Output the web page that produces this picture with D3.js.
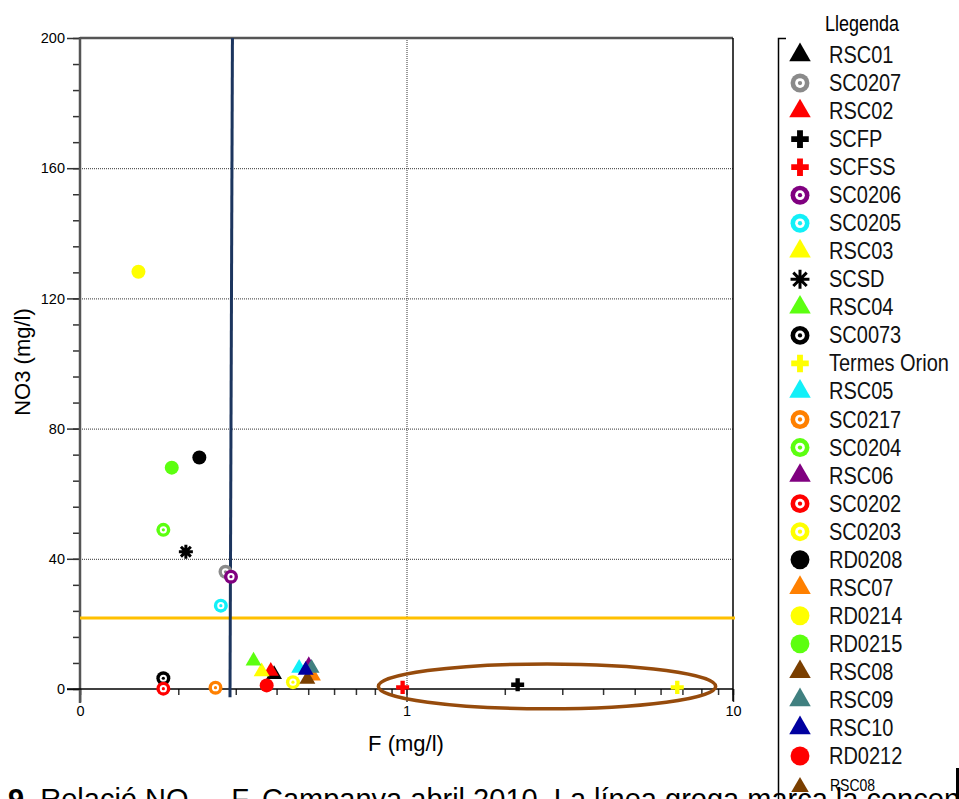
<!DOCTYPE html>
<html>
<head>
<meta charset="utf-8">
<script src="https://cdn.jsdelivr.net/npm/d3@7"></script>
<style>
  body { margin: 0; background: #fff; overflow: hidden; }
  svg { display: block; font-family: "Liberation Sans", Arial, sans-serif; }
</style>
</head>
<body>
<svg id="chart" width="959" height="799"></svg>
<script>
// sample points, legend order
const series = ['RSC01', 'SC0207', 'RSC02', 'SCFP', 'SCFSS', 'SC0206', 'SC0205', 'RSC03', 'SCSD',
  'RSC04', 'SC0073', 'Termes Orion', 'RSC05', 'SC0217', 'SC0204', 'RSC06', 'SC0202', 'SC0203',
  'RD0208', 'RSC07', 'RD0214', 'RD0215', 'RSC08', 'RSC09', 'RSC10', 'RD0212'];
const fluoride = [0.393, 0.279, 0.384, 2.19, 0.973, 0.290, 0.270, 0.360, 0.211,
  0.340, 0.180, 6.75, 0.469, 0.260, 0.180, 0.502, 0.180, 0.449,
  0.232, 0.517, 0.151, 0.191, 0.497, 0.512, 0.491, 0.373];
const nitrate = [4.5, 36.0, 5.5, 1.3, 0.5, 34.5, 25.6, 5.3, 42.2,
  8.6, 3.3, 0.5, 6.4, 0.4, 48.9, 7.2, 0.1, 2.1,
  71.1, 4.0, 128.2, 68.0, 3.0, 6.4, 5.8, 1.1];

const yTicks = [0, 40, 80, 120, 160, 200];
const xTicks = [0.1, 1, 10];
const xTickLabels = ['0', '1', '10'];

// reference lines
const nitrateLine = 21.8;
const fluorideLine = [0.293, 0.288];
// circled group (F range, NO3 range)
const circledF = [0.82, 8.85];
const circledNO3 = [-6.1, 7.7];

// marker style per series
const markerKind = {
  'RSC01': 'triangle', 'SC0207': 'ring', 'RSC02': 'triangle', 'SCFP': 'plus', 'SCFSS': 'plus',
  'SC0206': 'ring', 'SC0205': 'ring', 'RSC03': 'triangle', 'SCSD': 'asterisk', 'RSC04': 'triangle',
  'SC0073': 'ring', 'Termes Orion': 'plus', 'RSC05': 'triangle', 'SC0217': 'ring', 'SC0204': 'ring',
  'RSC06': 'triangle', 'SC0202': 'ring', 'SC0203': 'ring', 'RD0208': 'circle', 'RSC07': 'triangle',
  'RD0214': 'circle', 'RD0215': 'circle', 'RSC08': 'triangle', 'RSC09': 'triangle', 'RSC10': 'triangle',
  'RD0212': 'circle'
};
const markerColor = {
  'RSC01': '#000000', 'SC0207': '#8a8a8a', 'RSC02': '#ff0000', 'SCFP': '#000000', 'SCFSS': '#ff0000',
  'SC0206': '#800080', 'SC0205': '#12f0f8', 'RSC03': '#ffff00', 'SCSD': '#000000', 'RSC04': '#5cff10',
  'SC0073': '#000000', 'Termes Orion': '#ffff00', 'RSC05': '#12f0f8', 'SC0217': '#ff8000', 'SC0204': '#5cff10',
  'RSC06': '#800080', 'SC0202': '#ff0000', 'SC0203': '#ffff00', 'RD0208': '#000000', 'RSC07': '#ff8000',
  'RD0214': '#ffff00', 'RD0215': '#5cff10', 'RSC08': '#7a3f00', 'RSC09': '#408080', 'RSC10': '#0000a0',
  'RD0212': '#ff0000'
};

const svg = d3.select('#chart');
const x = d3.scaleLog().domain([0.1, 10]).range([80, 733]);
const y = d3.scaleLinear().domain([0, 200]).range([689, 38]);

const asterisk = {
  draw(ctx, size) {
    const r = Math.sqrt(size) / 2;
    for (let i = 0; i < 4; i++) {
      const a = i * Math.PI / 4;
      ctx.moveTo(-r * Math.cos(a), -r * Math.sin(a));
      ctx.lineTo(r * Math.cos(a), r * Math.sin(a));
    }
  }
};

function drawMarker(g, kind, color, k) {
  if (kind === 'triangle') {
    g.append('path').attr('d', d3.symbol(d3.symbolTriangle, 110 * k * k)()).attr('fill', color);
  } else if (kind === 'plus') {
    g.append('path').attr('d', d3.symbol(d3.symbolCross, 94 * k * k)()).attr('fill', color);
  } else if (kind === 'asterisk') {
    g.append('path').attr('d', d3.symbol(asterisk, 196 * k * k)())
      .attr('fill', 'none').attr('stroke', color).attr('stroke-width', 3);
  } else if (kind === 'circle') {
    g.append('circle').attr('r', 7 * k).attr('fill', color);
  } else {
    g.append('circle').attr('r', 7 * k).attr('fill', color);
    g.append('circle').attr('r', 3.6 * k).attr('fill', '#fff');
    g.append('circle').attr('r', 1.6 * k).attr('fill', color);
  }
}

// caption (cut off by the image edge)
const caption = svg.append('text').attr('x', 8).attr('y', 809).attr('font-size', 29).attr('fill', '#000');
caption.append('tspan').attr('font-weight', 'bold').text('9');
caption.append('tspan').text('. Relació NO');
caption.append('tspan').attr('font-size', 19).attr('dy', 6).text('3');
caption.append('tspan').attr('dy', -6).text(' – F. Campanya abril 2010. La línea groga marca la concentració');

// grid
const grid = svg.append('g').attr('stroke', '#333').attr('stroke-width', 1).attr('stroke-dasharray', '1,1');
grid.selectAll('line.h').data(yTicks.filter(d => d > 0 && d < 200)).join('line')
  .attr('x1', x(0.1)).attr('x2', x(10)).attr('y1', d => y(d) + 0.5).attr('y2', d => y(d) + 0.5);
grid.append('line').attr('x1', x(1) + 0.5).attr('x2', x(1) + 0.5).attr('y1', y(200)).attr('y2', y(0));

// axes
const yMinor = svg.append('g').attr('transform', `translate(${x(0.1)},0)`)
  .call(d3.axisLeft(y).tickValues(d3.range(0, 201, 8)).tickSize(7).tickFormat(''));
const yMajor = svg.append('g').attr('transform', `translate(${x(0.1)},0)`)
  .call(d3.axisLeft(y).tickValues(yTicks).tickSize(13).tickPadding(2));
const xMinor = svg.append('g').attr('transform', `translate(0,${y(0)})`)
  .call(d3.axisBottom(x).tickValues(x.ticks()).tickSize(6).tickFormat(''));
const xMajor = svg.append('g').attr('transform', `translate(0,${y(0)})`)
  .call(d3.axisBottom(x).tickValues(xTicks).tickSize(13).tickPadding(4)
    .tickFormat((d, i) => xTickLabels[i]));
[yMinor, yMajor, xMinor, xMajor].forEach(a => {
  a.select('.domain').remove();
  a.selectAll('.tick line').attr('stroke', '#333').attr('stroke-width', 1.5);
  a.selectAll('.tick text').attr('font-size', 14.5).attr('fill', '#000')
    .attr('font-family', '"Liberation Sans", Arial, sans-serif');
});

// frame
svg.append('line').attr('x1', x(0.1)).attr('x2', x(10)).attr('y1', y(200)).attr('y2', y(200))
  .attr('stroke', '#555').attr('stroke-width', 2.5);
svg.append('line').attr('x1', x(0.1)).attr('x2', x(0.1)).attr('y1', y(200) - 1).attr('y2', y(0) + 14)
  .attr('stroke', '#555').attr('stroke-width', 2.5);
svg.append('line').attr('x1', x(10)).attr('x2', x(10)).attr('y1', y(200)).attr('y2', y(0) + 12)
  .attr('stroke', '#000').attr('stroke-width', 1.5);
svg.append('line').attr('x1', x(0.1) - 13).attr('x2', x(10)).attr('y1', y(0)).attr('y2', y(0))
  .attr('stroke', '#000').attr('stroke-width', 1.5);

// axis titles
svg.append('text').attr('x', 406).attr('y', 751).attr('text-anchor', 'middle')
  .attr('font-size', 22).text('F (mg/l)');
svg.append('text').attr('transform', 'translate(30,362) rotate(-90)').attr('text-anchor', 'middle')
  .attr('font-size', 22).text('NO3 (mg/l)');

// reference lines
svg.append('line').attr('x1', x(0.1)).attr('x2', x(10) + 2)
  .attr('y1', y(nitrateLine)).attr('y2', y(nitrateLine))
  .attr('stroke', '#ffc000').attr('stroke-width', 3);
svg.append('line').attr('x1', x(fluorideLine[0])).attr('x2', x(fluorideLine[1]))
  .attr('y1', y(200)).attr('y2', y(-2.5))
  .attr('stroke', '#1c355e').attr('stroke-width', 3);

// circled group
const cx = (x(circledF[0]) + x(circledF[1])) / 2;
const cy = (y(circledNO3[0]) + y(circledNO3[1])) / 2;
svg.append('ellipse').attr('cx', cx).attr('cy', cy)
  .attr('rx', (x(circledF[1]) - x(circledF[0])) / 2)
  .attr('ry', (y(circledNO3[0]) - y(circledNO3[1])) / 2)
  .attr('fill', 'none').attr('stroke', '#964b0c').attr('stroke-width', 3.5);

// points
series.forEach((name, i) => {
  const g = svg.append('g').attr('transform', `translate(${x(fluoride[i])},${y(nitrate[i])})`);
  drawMarker(g, markerKind[name], markerColor[name], 1);
});

// legend
const legend = svg.append('g');
legend.append('path').attr('d', 'M786,38.5H778.5V799').attr('fill', 'none')
  .attr('stroke', '#000').attr('stroke-width', 1.5);
legend.append('text').attr('transform', 'translate(825,31) scale(1,1.18)').attr('font-size', 18).text('Llegenda');
const step = 28.04;
series.forEach((name, i) => {
  const ly = 55 + i * step;
  const g = legend.append('g').attr('transform', `translate(800,${ly})`);
  drawMarker(g, markerKind[name], markerColor[name], 1.35);
  legend.append('text').attr('transform', `translate(829,${ly + 8}) scale(1,1.17)`)
    .attr('font-size', 20).attr('fill', '#111').text(name);
});
const extra = legend.append('g').attr('transform', 'translate(800,787)');
drawMarker(extra, markerKind['RSC08'], markerColor['RSC08'], 1.1);
legend.append('text').attr('transform', 'translate(830,791) scale(1,1.15)').attr('font-size', 14).text('RSC08');
svg.append('rect').attr('x', 956).attr('y', 768).attr('width', 3).attr('height', 31).attr('fill', '#000');
</script>
</body>
</html>
